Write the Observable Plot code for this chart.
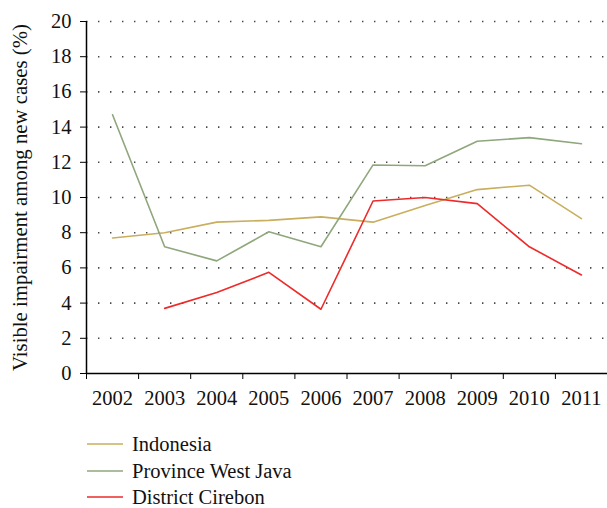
<!DOCTYPE html>
<html>
<head>
<meta charset="utf-8">
<script src="https://cdn.jsdelivr.net/npm/d3@7"></script>
<script src="https://cdn.jsdelivr.net/npm/@observablehq/plot@0.6"></script>
<style>
  body { margin: 0; background: #fff; font-family: "Liberation Serif", serif; }
  #wrap { position: relative; width: 607px; height: 508px; overflow: hidden; }
  #chart svg text { font-family: "Liberation Serif", serif !important; }
  #legend { position: absolute; left: 87px; top: 431px; font-size: 20.5px; line-height: 1; color: #111; }
  .row { display: flex; align-items: center; height: 26.5px; }
  .sw { width: 36px; height: 0; border-top: 2px solid; margin-right: 9px; opacity: 0.75; }
</style>
</head>
<body>
<div id="wrap"><div id="chart"></div><div id="legend"></div></div>
<script>
const years = [2002, 2003, 2004, 2005, 2006, 2007, 2008, 2009, 2010, 2011];
const indonesia = [7.7, 8.0, 8.6, 8.7, 8.9, 8.6, 9.55, 10.45, 10.7, 8.8];
const westJava = [14.7, 7.2, 6.4, 8.05, 7.2, 11.85, 11.8, 13.2, 13.4, 13.05];
const cirebon = [null, 3.7, 4.6, 5.75, 3.65, 9.8, 10.0, 9.65, 7.2, 5.6];
const seriesNames = ["Indonesia", "Province West Java", "District Cirebon"];
const seriesColors = ["#c9ae5d", "#8fa77c", "#ee2a2a"];
const yTicks = [0, 2, 4, 6, 8, 10, 12, 14, 16, 18, 20];
const yLabel = "Visible impairment among new cases (%)";

const seriesValues = [indonesia, westJava, cirebon];
const rows = [];
seriesValues.forEach((vals, i) => {
  years.forEach((y, j) => {
    if (vals[j] != null) rows.push({series: seriesNames[i], year: y, value: vals[j]});
  });
});
const bounds = years.map(y => y - 0.5).concat([years[years.length - 1] + 0.5]);

const chart = Plot.plot({
  width: 607,
  height: 420,
  marginLeft: 86,
  marginRight: 0,
  marginTop: 21,
  marginBottom: 47,
  style: {fontFamily: "'Liberation Serif', serif", fontSize: "20px", color: "#111", background: "#fff"},
  x: {type: "linear", domain: [bounds[0], bounds[bounds.length - 1]]},
  y: {domain: [0, 20]},
  marks: [
    Plot.ruleY(yTicks.filter(d => d > 0), {stroke: "#444", strokeWidth: 1.6, strokeDasharray: "1.4,10.6"}),
    Plot.line(rows, {filter: d => d.series === seriesNames[0], x: "year", y: "value", stroke: seriesColors[0], strokeWidth: 1.6}),
    Plot.line(rows, {filter: d => d.series === seriesNames[1], x: "year", y: "value", stroke: seriesColors[1], strokeWidth: 1.6}),
    Plot.line(rows, {filter: d => d.series === seriesNames[2], x: "year", y: "value", stroke: seriesColors[2], strokeWidth: 1.6}),
    Plot.ruleY([0], {stroke: "#000", strokeWidth: 1.5}),
    Plot.ruleX([bounds[0]], {stroke: "#000", strokeWidth: 1.5}),
    Plot.axisY({ticks: yTicks, tickSize: 6, tickPadding: 9, label: null, stroke: "#000", fontSize: 20.5}),
    Plot.axisX({ticks: bounds, tickSize: 6, tickFormat: () => "", label: null, stroke: "#000"}),
    Plot.axisX({ticks: years, tickSize: 0, tickPadding: 17, tickFormat: d => String(d), label: null, fontSize: 20.5}),
    Plot.text([yLabel], {frameAnchor: "left", textAnchor: "middle", rotate: -90, dx: -66, fontSize: 20.8, fill: "#111"})
  ]
});
document.getElementById("chart").appendChild(chart);

const legend = document.getElementById("legend");
seriesNames.forEach((n, i) => {
  const r = document.createElement("div");
  r.className = "row";
  const s = document.createElement("span");
  s.className = "sw";
  s.style.borderTopColor = seriesColors[i];
  const t = document.createElement("span");
  t.textContent = n;
  r.appendChild(s); r.appendChild(t);
  legend.appendChild(r);
});
</script>
</body>
</html>
